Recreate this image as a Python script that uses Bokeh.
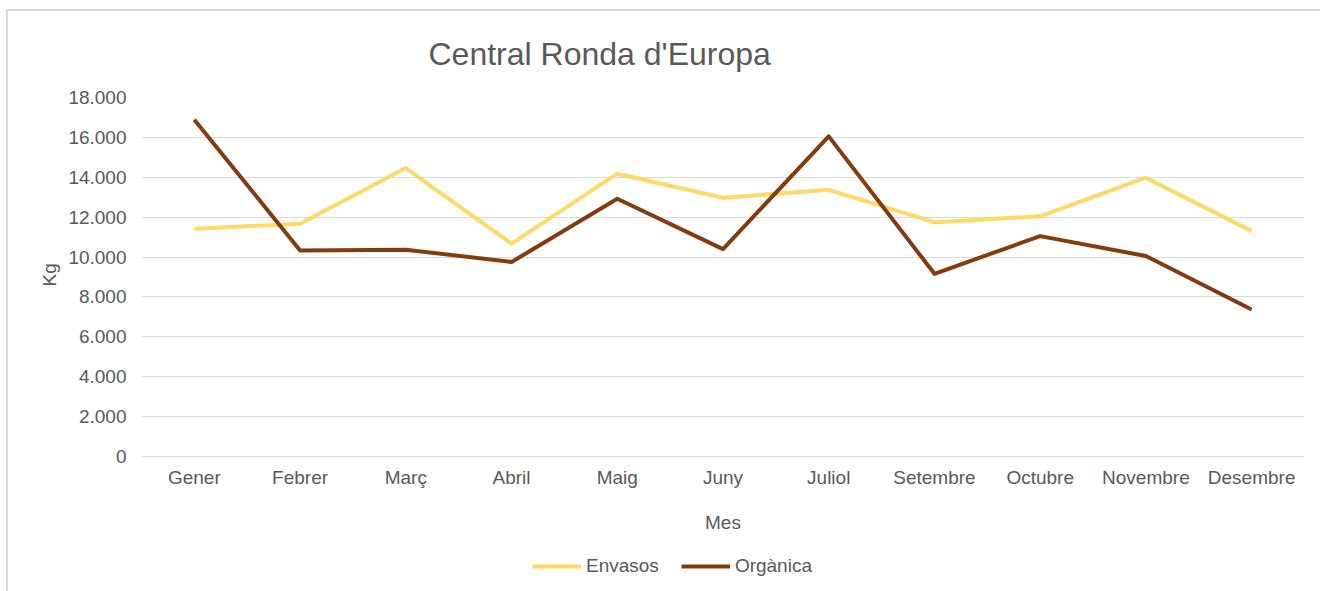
from bokeh.plotting import figure
from bokeh.models import FactorRange, Range1d, FixedTicker, Legend, LegendItem, Title
from bokeh.embed import file_html
from bokeh.resources import INLINE

months = ["Gener", "Febrer", "Març", "Abril", "Maig", "Juny", "Juliol",
          "Setembre", "Octubre", "Novembre", "Desembre"]
envasos = [11420, 11670, 14460, 10670, 14180, 12970, 13370, 11750, 12040, 13980, 11300]
organica = [16890, 10330, 10370, 9750, 12920, 10400, 16050, 9160, 11050, 10050, 7370]
y_ticks = [0, 2000, 4000, 6000, 8000, 10000, 12000, 14000, 16000, 18000]
y_tick_labels = ["0", "2.000", "4.000", "6.000", "8.000", "10.000", "12.000",
                 "14.000", "16.000", "18.000"]

FONT = "Liberation Sans"
GRAY = "#595959"
YELLOW = "#FFD966"
BROWN = "#843C0C"

# the frame reaches down to the bottom so that the legend below the x axis is drawn
p = figure(width=1320, height=591, x_range=FactorRange(*months, range_padding=0),
           y_range=Range1d(-6770, 18000), output_backend="svg", toolbar_location=None,
           min_border_left=141, min_border_right=16, min_border_top=97,
           min_border_bottom=0)
p.outline_line_color = None
p.background_fill_color = None
p.border_fill_color = None
p.styles = {"background": "linear-gradient(#d9d9d9,#d9d9d9) 6px 9px / 2px 100% no-repeat, "
                          "linear-gradient(#d9d9d9,#d9d9d9) 6px 9px / 100% 2px no-repeat, white"}

t = Title(text="Central Ronda d'Europa", align="left", offset=287,
          text_font=FONT, text_font_size="32px", text_font_style="normal",
          text_color=GRAY, standoff=52)
p.add_layout(t, "above")

kg = Title(text="Kg", align="left", offset=305, text_font=FONT, text_font_size="19px",
           text_font_style="normal", text_color=GRAY, standoff=11)
p.add_layout(kg, "left")

r1 = p.line(months, envasos, line_color=YELLOW, line_width=4, line_join="round")
r2 = p.line(months, organica, line_color=BROWN, line_width=4, line_join="round")

p.xgrid.grid_line_color = None
p.ygrid.grid_line_color = "#d9d9d9"
p.ygrid.grid_line_width = 1

p.yaxis.ticker = FixedTicker(ticks=y_ticks)
p.yaxis.major_label_overrides = {t_: l for t_, l in zip(y_ticks, y_tick_labels)}

for ax in (p.xaxis[0], p.yaxis[0]):
    ax.axis_line_color = None
    ax.major_tick_line_color = None
    ax.minor_tick_line_color = None
    ax.major_label_text_font = FONT
    ax.major_label_text_font_size = "19px"
    ax.major_label_text_color = GRAY
    ax.axis_label_text_font = FONT
    ax.axis_label_text_font_size = "19px"
    ax.axis_label_text_font_style = "normal"
    ax.axis_label_text_color = GRAY

p.xaxis.fixed_location = 0
p.xaxis.axis_label = "Mes"
p.yaxis.major_label_standoff = 9
p.xaxis.major_label_standoff = 5
p.xaxis.axis_label_standoff = 20

legend = Legend(items=[LegendItem(label="Envasos", renderers=[r1]),
                       LegendItem(label="Orgànica", renderers=[r2])],
                orientation="horizontal", location=(391, 14),
                label_text_font=FONT, label_text_font_size="19px",
                label_text_color=GRAY, glyph_width=49, glyph_height=20,
                label_standoff=5, spacing=22, border_line_color=None,
                background_fill_alpha=0, padding=4, margin=0)
p.add_layout(legend, "center")

open("out.html", "w").write(file_html(p, INLINE))
